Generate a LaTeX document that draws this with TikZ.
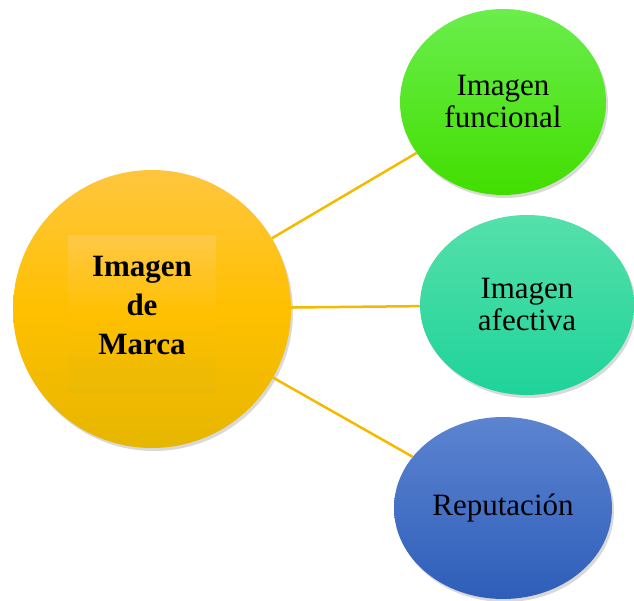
\documentclass[tikz,border=0pt]{standalone}
\usepackage{fontspec}
\setmainfont{Liberation Serif}
\usetikzlibrary{shapes.geometric,shadows}
\definecolor{marcatop}{RGB}{255,198,62}
\definecolor{marcamid}{RGB}{255,192,0}
\definecolor{marcabot}{RGB}{230,182,0}
\definecolor{cajatop}{RGB}{255,200,70}
\definecolor{cajabot}{RGB}{234,184,4}
\definecolor{funtop}{RGB}{106,238,76}
\definecolor{funbot}{RGB}{66,222,0}
\definecolor{afetop}{RGB}{86,224,170}
\definecolor{afebot}{RGB}{30,211,154}
\definecolor{reptop}{RGB}{92,132,208}
\definecolor{repbot}{RGB}{46,94,186}
\definecolor{linea}{RGB}{245,185,0}
\begin{document}
\begin{tikzpicture}[x=1pt,y=-1pt]
\tikzstyle{sombra} = [drop shadow={opacity=0.3,shadow xshift=2pt,shadow yshift=-3pt}]
\tikzstyle{marca} = [circle,inner sep=0,minimum size=278,sombra,
                     top color=marcatop,bottom color=marcabot,middle color=marcamid]
\tikzstyle{caja} = [rectangle,inner sep=0,minimum width=148,minimum height=156,
                    top color=cajatop,bottom color=cajabot,middle color=marcamid]
\tikzstyle{globo} = [ellipse,inner sep=0,sombra,align=center,
                     font=\fontsize{31}{32}\selectfont]
\tikzstyle{rama} = [draw=linea,line width=2.5]
\useasboundingbox (0,0) rectangle (634,601);
\node [marca] (v1) at (152,309) {};
\node [caja] (v2) at (142,314) {};
\node [align=center,font=\bfseries\fontsize{31}{39}\selectfont] (v3) at (142,306) {Imagen\\de\\Marca};
\node [globo,minimum width=206,minimum height=186,top color=funtop,bottom color=funbot] (v4) at (503,102) {Imagen\\funcional};
\node [globo,minimum width=214,minimum height=180,top color=afetop,bottom color=afebot] (v5) at (527,305) {Imagen\\afectiva};
\node [globo,minimum width=218,minimum height=182,top color=reptop,bottom color=repbot] (v6) at (503,508) {Reputación};
\draw [rama] (v1) -- (v4);
\draw [rama] (v1) -- (v5);
\draw [rama] (v1) -- (v6);
\end{tikzpicture}
\end{document}
